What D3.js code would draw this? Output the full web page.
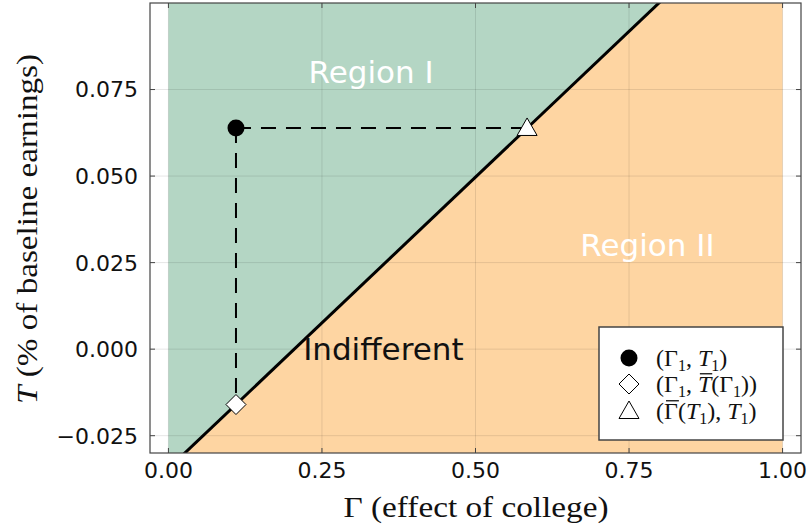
<!DOCTYPE html>
<html>
<head>
<meta charset="utf-8">
<script src="https://cdn.jsdelivr.net/npm/d3@7"></script>
<style>
  body { margin: 0; background: #fff; }
  svg { display: block; }
  .tick-label { font-family: "DejaVu Sans", sans-serif; font-size: 22px; fill: #111; }
  .math { font-family: "Liberation Serif", "DejaVu Serif", serif; fill: #111; }
</style>
</head>
<body>
<div id="chart"></div>
<script>
// Données du graphique
const xTicks = [0, 0.25, 0.5, 0.75, 1];
const xTickLabels = ['0.00', '0.25', '0.50', '0.75', '1.00'];
const yTicks = [-0.025, 0, 0.025, 0.05, 0.075];
const yTickLabels = ['\u22120.025', '0.000', '0.025', '0.050', '0.075'];

// Frontière d'indifférence (Γ, T)
const boundaryGamma = [0, 1];
const boundaryT = [-0.0345, 0.1339];

// Points marqués : (Γ1, T1), (Γ1, T̄(Γ1)), (Γ̄(T1), T1)
const pointGamma = [0.110, 0.110, 0.584];
const pointT = [0.0639, -0.0160, 0.0639];
const pointShape = ['circle', 'diamond', 'triangle'];

// Annotations
const noteText = ['Region I', 'Region II', 'Indifferent'];
const noteGamma = [0.33, 0.78, 0.35];
const noteT = [0.08, 0.03, 0.0];
const noteColor = ['#fff', '#fff', '#111'];

// Configuration
const width = 810;
const height = 529;
const plot = { left: 150, right: 801, top: 3, bottom: 453 };
const green = '#b4d6c4';
const orange = '#fed5a2';

const svg = d3.select('#chart')
    .append('svg')
    .attr('width', width)
    .attr('height', height);

const x = d3.scaleLinear().domain([-0.03, 1.03]).range([plot.left, plot.right]);
const y = d3.scaleLinear().domain([-0.03, 0.1]).range([plot.bottom, plot.top]);

svg.append('defs').append('clipPath')
    .attr('id', 'clip')
    .append('rect')
    .attr('x', plot.left)
    .attr('y', plot.top)
    .attr('width', plot.right - plot.left)
    .attr('height', plot.bottom - plot.top);

const g = svg.append('g').attr('clip-path', 'url(#clip)');

const [yMin, yMax] = y.domain();
const boundary = boundaryGamma.map((gm, i) => [gm, boundaryT[i]]);
const area = d3.line().x(d => x(d[0])).y(d => y(d[1]));

// Région I (au-dessus) et région II (en dessous)
g.append('path')
    .attr('d', area([[boundaryGamma[0], yMax + 1], ...boundary, [boundaryGamma[1], yMax + 1]]) + 'Z')
    .attr('fill', green);
g.append('path')
    .attr('d', area([[boundaryGamma[0], yMin - 1], ...boundary, [boundaryGamma[1], yMin - 1]]) + 'Z')
    .attr('fill', orange);

// Grille
g.selectAll('.gx').data(xTicks).enter().append('line')
    .attr('x1', d => x(d)).attr('x2', d => x(d))
    .attr('y1', plot.top).attr('y2', plot.bottom)
    .attr('stroke', 'rgba(0,0,0,0.1)').attr('stroke-width', 1);
g.selectAll('.gy').data(yTicks).enter().append('line')
    .attr('x1', plot.left).attr('x2', plot.right)
    .attr('y1', d => y(d)).attr('y2', d => y(d))
    .attr('stroke', 'rgba(0,0,0,0.1)').attr('stroke-width', 1);

// Frontière
g.append('path')
    .attr('d', area(boundary))
    .attr('fill', 'none')
    .attr('stroke', '#000')
    .attr('stroke-width', 3);

// Lignes pointillées
const dash = '15,10';
g.append('line')
    .attr('x1', x(pointGamma[0])).attr('y1', y(pointT[0]))
    .attr('x2', x(pointGamma[2])).attr('y2', y(pointT[2]))
    .attr('stroke', '#000').attr('stroke-width', 2).attr('stroke-dasharray', dash);
g.append('line')
    .attr('x1', x(pointGamma[0])).attr('y1', y(pointT[0]))
    .attr('x2', x(pointGamma[1])).attr('y2', y(pointT[1]))
    .attr('stroke', '#000').attr('stroke-width', 2).attr('stroke-dasharray', dash);

// Marqueurs
function marker(sel, shape, cx, cy) {
    if (shape === 'circle') {
        sel.append('circle').attr('cx', cx).attr('cy', cy).attr('r', 8.5)
            .attr('fill', '#000');
    } else if (shape === 'diamond') {
        const r = 10;
        sel.append('path')
            .attr('d', `M${cx},${cy - r}L${cx + r},${cy}L${cx},${cy + r}L${cx - r},${cy}Z`)
            .attr('fill', '#fff').attr('stroke', '#000').attr('stroke-width', 1);
    } else {
        const s = 10;
        sel.append('path')
            .attr('d', `M${cx},${cy - s}L${cx + s},${cy + s * 0.75}L${cx - s},${cy + s * 0.75}Z`)
            .attr('fill', '#fff').attr('stroke', '#000').attr('stroke-width', 1);
    }
}
pointShape.forEach((s, i) => marker(g, s, x(pointGamma[i]), y(pointT[i])));

// Annotations
noteText.forEach((t, i) => {
    g.append('text')
        .attr('x', x(noteGamma[i]))
        .attr('y', y(noteT[i]))
        .attr('text-anchor', 'middle')
        .attr('dominant-baseline', 'central')
        .style('font-family', '"DejaVu Sans", sans-serif')
        .style('font-size', '31px')
        .style('fill', noteColor[i])
        .text(t);
});

// Cadre et graduations
svg.append('rect')
    .attr('x', plot.left).attr('y', plot.top)
    .attr('width', plot.right - plot.left).attr('height', plot.bottom - plot.top)
    .attr('fill', 'none').attr('stroke', '#444').attr('stroke-width', 1.2);

const tl = 5;
xTicks.forEach(t => {
    svg.append('line').attr('x1', x(t)).attr('x2', x(t))
        .attr('y1', plot.bottom).attr('y2', plot.bottom - tl)
        .attr('stroke', '#444');
    svg.append('line').attr('x1', x(t)).attr('x2', x(t))
        .attr('y1', plot.top).attr('y2', plot.top + tl)
        .attr('stroke', '#444');
});
yTicks.forEach(t => {
    svg.append('line').attr('x1', plot.left).attr('x2', plot.left + tl)
        .attr('y1', y(t)).attr('y2', y(t))
        .attr('stroke', '#444');
    svg.append('line').attr('x1', plot.right).attr('x2', plot.right - tl)
        .attr('y1', y(t)).attr('y2', y(t))
        .attr('stroke', '#444');
});

svg.selectAll('.xl').data(xTicks).enter().append('text')
    .attr('class', 'tick-label')
    .attr('x', d => x(d))
    .attr('y', 478)
    .attr('text-anchor', 'middle')
    .text((d, i) => xTickLabels[i]);

svg.selectAll('.yl').data(yTicks).enter().append('text')
    .attr('class', 'tick-label')
    .attr('x', 138)
    .attr('y', d => y(d))
    .attr('dy', '0.36em')
    .attr('text-anchor', 'end')
    .text((d, i) => yTickLabels[i]);

// Titres des axes
svg.append('text')
    .attr('class', 'math')
    .attr('x', 476)
    .attr('y', 517)
    .attr('text-anchor', 'middle')
    .attr('textLength', 265)
    .attr('lengthAdjust', 'spacingAndGlyphs')
    .style('font-size', '30px')
    .text('\u0393 (effect of college)');

const yLabel = svg.append('text')
    .attr('class', 'math')
    .attr('transform', `translate(37,229) rotate(-90)`)
    .attr('text-anchor', 'middle')
    .attr('textLength', 350)
    .attr('lengthAdjust', 'spacingAndGlyphs')
    .style('font-size', '30px');
yLabel.append('tspan').style('font-style', 'italic').text('T');
yLabel.append('tspan').text(' (% of baseline earnings)');

// Légende
const legend = svg.append('g');
legend.append('rect')
    .attr('x', 599).attr('y', 327).attr('width', 184).attr('height', 113)
    .attr('fill', '#fff').attr('stroke', '#444').attr('stroke-width', 1.5);

const legendRows = [
    [['(\u0393', ''], ['1', 'sub'], [', ', ''], ['T', 'it'], ['1', 'sub'], [')', '']],
    [['(\u0393', ''], ['1', 'sub'], [', ', ''], ['T', 'itbar'], ['(\u0393', ''], ['1', 'sub'], ['))', '']],
    [['(', ''], ['\u0393', 'bar'], ['(', ''], ['T', 'it'], ['1', 'sub'], ['), ', ''], ['T', 'it'], ['1', 'sub'], [')', '']]
];
const legendY = [358, 384, 411];
const fs = 24;

legendRows.forEach((parts, i) => {
    marker(legend, pointShape[i], 629, legendY[i]);
    const base = legendY[i] + 8;
    const t = legend.append('text')
        .attr('class', 'math')
        .attr('x', 656)
        .attr('y', base)
        .style('font-size', fs + 'px');
    let shifted = false;
    const bars = [];
    parts.forEach(([s, k]) => {
        const sp = t.append('tspan').text(s);
        if (k === 'sub') {
            sp.attr('dy', shifted ? 0 : 5).style('font-size', '16px');
            shifted = true;
        } else {
            if (shifted) sp.attr('dy', -5);
            shifted = false;
        }
        if (k === 'it' || k === 'itbar') sp.style('font-style', 'italic');
        if (k === 'itbar' || k === 'bar') bars.push(sp.node());
    });
    // barres au-dessus de T̄ et Γ̄
    bars.forEach(node => {
        const x0 = node.getStartPositionOfChar(0).x;
        const x1 = node.getEndPositionOfChar(0).x;
        legend.append('line')
            .attr('x1', x0 + 2).attr('x2', x1 + 1)
            .attr('y1', base - fs * 0.76).attr('y2', base - fs * 0.76)
            .attr('stroke', '#111').attr('stroke-width', 1.3);
    });
});
</script>
</body>
</html>
